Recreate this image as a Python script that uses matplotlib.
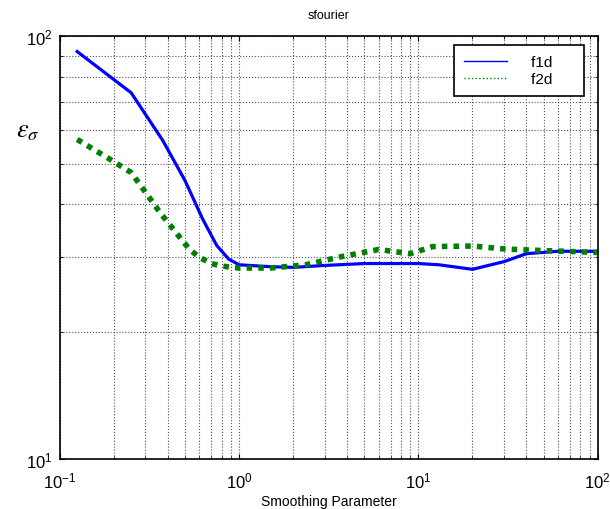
import math
import matplotlib.pyplot as plt
from matplotlib.lines import Line2D
from matplotlib.ticker import FuncFormatter, NullFormatter

plt.rcParams['font.family'] = ['Liberation Sans', 'DejaVu Sans']

# data
x_f1d = [0.125, 0.25, 0.375, 0.5, 0.625, 0.75, 0.875, 1.0, 1.5, 2, 3, 5, 7, 10, 13, 20, 30, 40, 60, 100]
y_f1d = [92, 73.5, 56.7, 45.5, 37, 32, 29.7, 28.8, 28.5, 28.4, 28.7, 29.0, 29.0, 29.0, 28.8, 28.1, 29.3, 30.6, 31.0, 31.0]

x_f2d = [0.125, 0.19, 0.25, 0.3, 0.36, 0.44, 0.53, 0.6, 0.7, 0.8, 1.0, 1.5, 2.35, 3.7, 6, 9, 12, 20, 30, 42, 100]
y_f2d = [57, 51.2, 47.6, 42.8, 38.4, 34.5, 31.3, 30, 29, 28.6, 28.3, 28.3, 28.8, 30.1, 31.3, 30.6, 31.8, 31.9, 31.4, 31.2, 30.8]

fig = plt.figure(figsize=(6.1, 5.1), dpi=100)
ax = fig.add_axes([0.098, 0.098, 0.882, 0.829])

ax.plot(x_f1d, y_f1d, color='#0000ff', lw=2.3, solid_joinstyle='round')
ax.plot(x_f2d, y_f2d, color='#007f00', lw=4, linestyle=(0, (1, 1.1)), dash_capstyle='butt')

ax.set_xscale('log')
ax.set_yscale('log')
ax.set_xlim(0.1, 100)
ax.set_ylim(10, 100)

pow10 = FuncFormatter(lambda v, p: r'$\mathregular{10^{%d}}$' % round(math.log10(v)))
ax.xaxis.set_major_formatter(pow10)
ax.yaxis.set_major_formatter(pow10)
ax.xaxis.set_minor_formatter(NullFormatter())
ax.yaxis.set_minor_formatter(NullFormatter())

ax.grid(True, which='both', linestyle=':', color='#555555', linewidth=0.8)
ax.tick_params(which='both', direction='in', top=True, right=True, labelsize=12)
ax.tick_params(axis='x', pad=8)
ax.tick_params(axis='y', pad=5)
for s in ax.spines.values():
    s.set_linewidth(1.2)

ax.set_title('sfourier', fontsize=9, pad=13)
ax.set_xlabel('Smoothing Parameter', fontsize=10)
ax.xaxis.set_label_coords(0.5, -0.083)
yl = ax.set_ylabel(r'$\varepsilon_\sigma$', fontsize=19, rotation=0)
yl.set_math_fontfamily('stix')
ax.yaxis.set_label_coords(-0.06, 0.75)

handles = [Line2D([], [], color='#0000ff', lw=1),
           Line2D([], [], color='#007f00', lw=1, linestyle=':')]
leg = ax.legend(handles, ['f1d     ', 'f2d     '], loc='upper right', fontsize=11,
                fancybox=False, framealpha=1, edgecolor='black',
                handlelength=2.8, handletextpad=1.6, borderpad=0.65,
                labelspacing=0.2, borderaxespad=0,
                bbox_to_anchor=(0.974, 0.979))
leg.get_frame().set_linewidth(1.2)

fig.savefig('out.png', dpi=100)
